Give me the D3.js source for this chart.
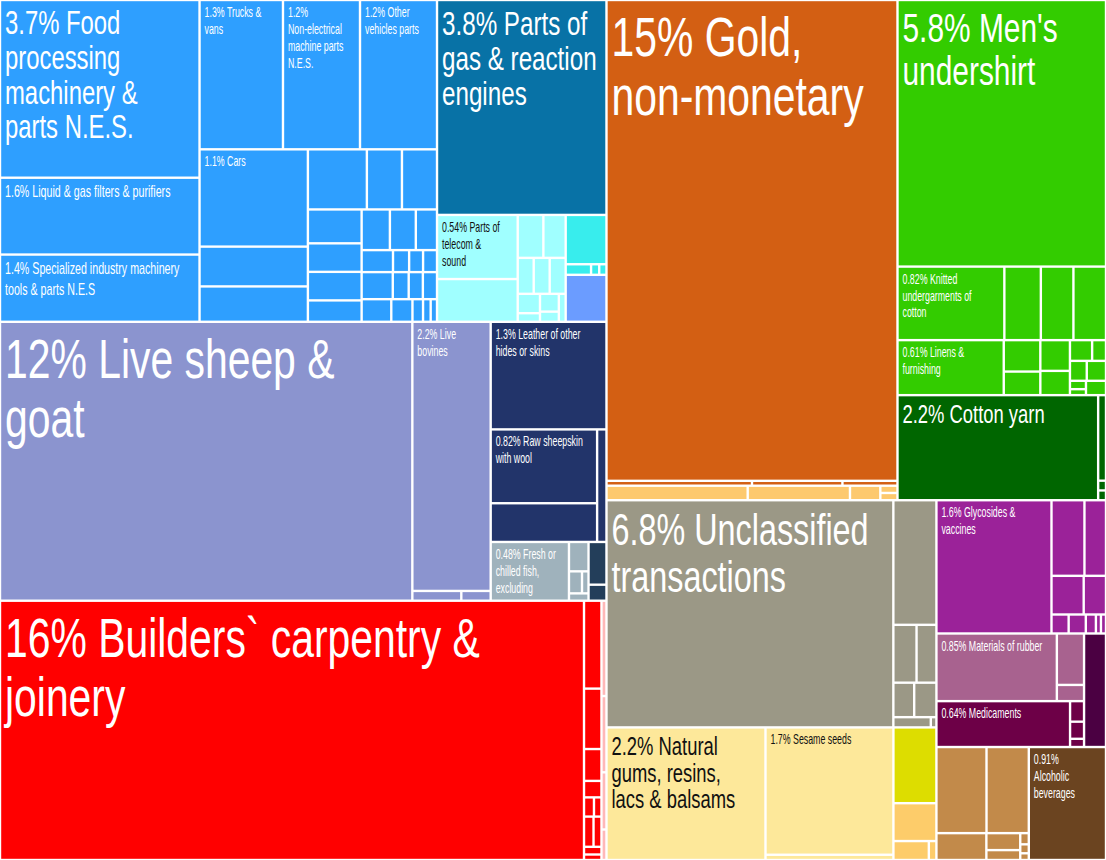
<!DOCTYPE html>
<html>
<head>
<meta charset="utf-8">
<script src="https://cdn.jsdelivr.net/npm/d3@7"></script>
<style>
  body { margin: 0; background: #fff; }
  svg { display: block; }
  text { font-family: "Liberation Sans", Arial, sans-serif; }
</style>
</head>
<body>
<div id="chart"></div>
<script>
const width = 1106;
const height = 860;

// ---- data: share of total exports, % ----
// labelled products, grouped by sector; "Other" arrays are the small unlabelled products
const machineryNames = ["Food processing machinery & parts N.E.S.", "Liquid & gas filters & purifiers",
  "Specialized industry machinery tools & parts N.E.S", "Trucks & vans",
  "Non-electrical machine parts N.E.S.", "Other vehicles parts", "Cars"];
const machineryShares = [3.7, 1.6, 1.4, 1.3, 1.2, 1.2, 1.1];
const machineryOther = [0.45, 0.40, 0.37, 0.22, 0.22, 0.19, 0.16, 0.16, 0.12,
  0.12, 0.11, 0.09, 0.072, 0.037, 0.032, 0.032, 0.088, 0.045, 0.04, 0.04,
  0.07, 0.05, 0.025, 0.018, 0.015];

const gasNames = ["Parts of gas & reaction engines"];
const gasShares = [3.8];
const telecomNames = ["Parts of telecom & sound"];
const telecomShares = [0.54];
const telecomOther = [0.36, 0.115, 0.10, 0.06, 0.06, 0.06, 0.045, 0.02, 0.035, 0.02, 0.02];
const cyanOther = [0.21, 0.028, 0.009, 0.008];
const blueOther = [0.20];

const animalNames = ["Live sheep & goat", "Live bovines"];
const animalShares = [12, 2.2];
const animalOther = [0.05, 0.03];
const leatherNames = ["Leather of other hides or skins", "Raw sheepskin with wool"];
const leatherShares = [1.3, 0.82];
const leatherOther = [0.43, 0.11];
const fishNames = ["Fresh or chilled fish, excluding"];
const fishShares = [0.48];
const fishOther = [0.06, 0.03, 0.015, 0.015];
const fishDarkOther = [0.08, 0.03];

const woodNames = ["Builders` carpentry & joinery"];
const woodShares = [15.8];
const woodOther = [0.16, 0.11, 0.058, 0.03, 0.02, 0.015, 0.03, 0.025, 0.014, 0.01];
const pinkOther = [0.05, 0.04, 0.03, 0.016];

const goldNames = ["Gold, non-monetary"];
const goldShares = [14.6];
const goldOther = [0.074, 0.046, 0.028];
const goldLightOther = [0.214, 0.155, 0.046, 0.013, 0.013];

const textileNames = ["Men's undershirt", "Knitted undergarments of cotton", "Linens & furnishing"];
const textileShares = [5.8, 0.82, 0.61];
const textileOther = [0.28, 0.25, 0.25, 0.12, 0.09, 0.095, 0.075, 0.048, 0.03, 0.035, 0.04, 0.014, 0.01, 0.03];
const cottonNames = ["Cotton yarn"];
const cottonShares = [2.2];
const cottonOther = [0.07, 0.008, 0.008];

const unclassifiedNames = ["Unclassified transactions"];
const unclassifiedShares = [6.8];
const unclassifiedOther = [0.56, 0.14, 0.12, 0.075, 0.08, 0.04, 0.006];

const vegetableNames = ["Natural gums, resins, lacs & balsams", "Sesame seeds"];
const vegetableShares = [2.2, 1.7];
const vegetableOther = [0.07];
const yellowOther = [0.34];
const orangeOther = [0.17, 0.07, 0.015];

const pharmaNames = ["Glycosides & vaccines"];
const pharmaShares = [1.6];
const pharmaOther = [0.26, 0.17, 0.13, 0.09, 0.034, 0.034, 0.02, 0.01, 0.01];
const rubberNames = ["Materials of rubber"];
const rubberShares = [0.85];
const rubberOther = [0.146, 0.046];
const medsNames = ["Medicaments"];
const medsShares = [0.64];
const medsOther = [0.03, 0.025, 0.012];
const darkPurpleOther = [0.26];

const foodOther = [0.45, 0.38, 0.14, 0.06, 0.035, 0.01, 0.008, 0.006];
const drinkNames = ["Alcoholic beverages"];
const drinkShares = [0.91];

const colors = {
  machinery: "#2e9fff", gas: "#0872a6", telecom: "#a0ffff", cyan: "#38eded", blue: "#6b9cff",
  animals: "#8b94cf", leather: "#22346a", fish: "#9fb2bc", fishDark: "#233e5a",
  wood: "#ff0000", pink: "#ffb8b8", gold: "#d35f13", goldLight: "#fdc96e",
  textile: "#33cc00", cotton: "#006600", unclassified: "#9b9886",
  vegetable: "#fde89a", yellow: "#dddd00", orange: "#fdcc6a",
  pharma: "#9b2299", rubber: "#a8628f", meds: "#6d0047", darkPurple: "#4b0042",
  food: "#c28a4a", drinks: "#6b4420"
};

// ---- hierarchy ----
const named = (names, values, color) => names.map((name, i) => ({ name, value: values[i], color }));
const cells = (values, color) => values.map(value => ({ name: null, value, color }));
const H = (...children) => ({ dir: "h", children });
const V = (...children) => ({ dir: "v", children });

const mach = named(machineryNames, machineryShares, colors.machinery);
const machO = cells(machineryOther, colors.machinery);
const gas = named(gasNames, gasShares, colors.gas);
const tel = named(telecomNames, telecomShares, colors.telecom);
const telO = cells(telecomOther, colors.telecom);
const cyan = cells(cyanOther, colors.cyan);
const blue = cells(blueOther, colors.blue);
const anim = named(animalNames, animalShares, colors.animals);
const animO = cells(animalOther, colors.animals);
const leath = named(leatherNames, leatherShares, colors.leather);
const leathO = cells(leatherOther, colors.leather);
const fish = named(fishNames, fishShares, colors.fish);
const fishO = cells(fishOther, colors.fish);
const fishD = cells(fishDarkOther, colors.fishDark);
const wood = named(woodNames, woodShares, colors.wood);
const woodO = cells(woodOther, colors.wood);
const pink = cells(pinkOther, colors.pink);
const gold = named(goldNames, goldShares, colors.gold);
const goldO = cells(goldOther, colors.gold);
const goldL = cells(goldLightOther, colors.goldLight);
const tex = named(textileNames, textileShares, colors.textile);
const texO = cells(textileOther, colors.textile);
const cot = named(cottonNames, cottonShares, colors.cotton);
const cotO = cells(cottonOther, colors.cotton);
const unc = named(unclassifiedNames, unclassifiedShares, colors.unclassified);
const uncO = cells(unclassifiedOther, colors.unclassified);
const veg = named(vegetableNames, vegetableShares, colors.vegetable);
const vegO = cells(vegetableOther, colors.vegetable);
const yel = cells(yellowOther, colors.yellow);
const ora = cells(orangeOther, colors.orange);
const pha = named(pharmaNames, pharmaShares, colors.pharma);
const phaO = cells(pharmaOther, colors.pharma);
const rub = named(rubberNames, rubberShares, colors.rubber);
const rubO = cells(rubberOther, colors.rubber);
const meds = named(medsNames, medsShares, colors.meds);
const medsO = cells(medsOther, colors.meds);
const darkP = cells(darkPurpleOther, colors.darkPurple);
const foodO = cells(foodOther, colors.food);
const drink = named(drinkNames, drinkShares, colors.drinks);

const tree = H(
  V(
    H(
      H(
        V(mach[0], mach[1], mach[2]),
        V(
          H(mach[3], mach[4], mach[5]),
          H(
            V(mach[6], machO[0], machO[1]),
            V(
              H(...machO.slice(2, 5)),
              H(
                V(...machO.slice(5, 9)),
                V(H(...machO.slice(9, 12)), H(...machO.slice(12, 16)),
                  H(...machO.slice(16, 20)), H(...machO.slice(20, 25)))
              )
            )
          )
        )
      ),
      V(
        gas[0],
        H(
          V(tel[0], telO[0]),
          V(H(telO[1], telO[2]), H(telO[3], telO[4], telO[5]),
            H(V(telO[6], telO[7]), V(telO[8], telO[9]), telO[10])),
          V(cyan[0], H(cyan[1], cyan[2], cyan[3]), blue[0])
        )
      )
    ),
    H(
      anim[0],
      V(anim[1], H(animO[0], animO[1])),
      V(
        leath[0],
        H(V(leath[1], leathO[0]), leathO[1]),
        H(fish[0], V(fishO[0], H(fishO[1], fishO[2]), fishO[3]), V(fishD[0], fishD[1]))
      )
    ),
    H(
      wood[0],
      V(woodO[0], woodO[1], woodO[2], woodO[3], H(woodO[4], woodO[5]), H(woodO[6], woodO[7]), woodO[8], woodO[9]),
      V(...pink)
    )
  ),
  V(
    H(
      V(gold[0], H(...goldO), H(goldL[0], goldL[1], goldL[2], V(goldL[3], goldL[4]))),
      V(
        tex[0],
        H(tex[1], texO[0], texO[1], texO[2]),
        H(tex[2], V(texO[3], texO[4]), V(texO[5], texO[6]),
          V(H(texO[7], texO[8]), H(texO[9], texO[10]), H(V(texO[11], texO[12]), texO[13]))),
        H(cot[0], V(...cotO))
      )
    ),
    H(
      V(
        H(unc[0], V(uncO[0], H(uncO[1], uncO[2]), H(uncO[3], uncO[4]), H(uncO[5], uncO[6]))),
        H(veg[0], V(veg[1], vegO[0]), V(yel[0], ora[0], H(ora[1], ora[2])))
      ),
      V(
        V(
          H(pha[0], V(H(phaO[0], phaO[1]), H(phaO[2], phaO[3]), H(...phaO.slice(4, 9)))),
          H(V(H(rub[0], V(...rubO)), H(meds[0], V(...medsO))), darkP[0])
        ),
        H(V(H(foodO[0], foodO[1]), H(foodO[2], V(foodO[3], foodO[4]), V(foodO[5], foodO[6], foodO[7]))), drink[0])
      )
    )
  )
);

const tile = (node, x0, y0, x1, y1) =>
  (node.data.dir === "h" ? d3.treemapDice : d3.treemapSlice)(node, x0, y0, x1, y1);

const root = d3.hierarchy(tree).sum(d => (d.children ? 0 : d.value));
d3.treemap().size([width, height]).tile(tile).round(false)(root);

// ---- draw ----
const svg = d3.select("#chart").append("svg")
  .attr("width", width)
  .attr("height", height);

const gap = 1.2;
const leaves = root.leaves();

svg.selectAll("rect")
  .data(leaves)
  .join("rect")
  .attr("x", d => d.x0 + gap)
  .attr("y", d => d.y0 + gap)
  .attr("width", d => Math.max(0, d.x1 - d.x0 - 2 * gap))
  .attr("height", d => Math.max(0, d.y1 - d.y0 - 2 * gap))
  .attr("fill", d => d.data.color);

// ---- labels ----
const pct = d3.format(".2r");
const ctx = document.createElement("canvas").getContext("2d");
const measure = (t, fs) => {
  ctx.font = `${fs}px "Liberation Sans"`;
  return ctx.measureText(t).width;
};

const wrap = (words, fs, maxW) => {
  const lines = [];
  let line = "";
  for (const w of words) {
    const test = line ? line + " " + w : w;
    if (line && measure(test, fs) > maxW) {
      lines.push(line);
      line = w;
    } else {
      line = test;
    }
  }
  if (line) lines.push(line);
  return lines;
};

const labelled = leaves.filter(d => d.data.name);

labelled.forEach(d => {
  const w = d.x1 - d.x0;
  const h = d.y1 - d.y0;
  const share = d.data.value;
  const big = share >= 2 && w >= 120;
  const sx = big ? 0.73 : 0.63;
  let fs = big ? Math.min(56, 17 * Math.sqrt(share)) : Math.max(14, Math.min(17, 0.085 * w));
  const lineH = f => (big ? f * 1.06 : f * 1.21);
  const words = `${pct(share)}% ${d.data.name}`.split(" ");
  const maxW = (w - (big ? 12 : 16)) / sx;
  let lines;
  while (true) {
    lines = wrap(words, fs, maxW);
    const widest = d3.max(words, t => measure(t, fs));
    if ((widest <= maxW && (!big || lines.length * lineH(fs) <= h - 6)) || fs <= 8) break;
    fs -= 1;
  }
  const lh = lineH(fs);
  const first = 0.93 * fs + 4;
  lines = lines.filter((t, i) => first + i * lh < h - 2);
  const dark = d3.lab(d.data.color).l > 80;

  svg.append("text")
    .attr("transform", `translate(${d.x0 + 5},${d.y0 + first}) scale(${sx},1)`)
    .attr("font-size", fs)
    .attr("fill", dark ? "#111" : "#fff")
    .selectAll("tspan")
    .data(lines)
    .join("tspan")
    .attr("x", 0)
    .attr("y", (t, i) => i * lh)
    .text(t => t);
});
</script>
</body>
</html>
